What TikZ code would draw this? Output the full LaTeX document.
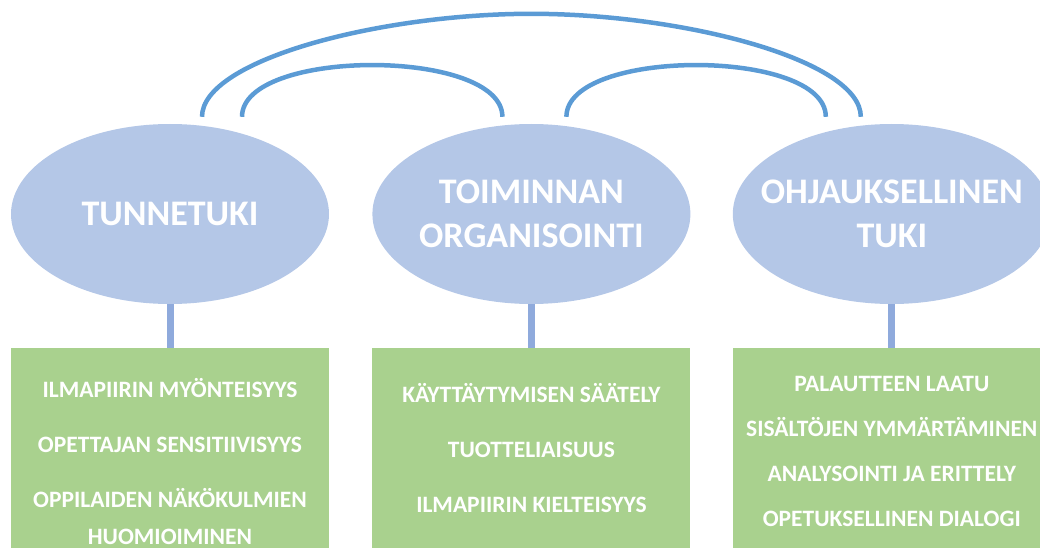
\documentclass[tikz,border=0pt]{standalone}
\usepackage{fontspec}
\setmainfont{Carlito}
\usepackage{xcolor}
\usepackage{tikz}
\usetikzlibrary{shapes.geometric}
\usetikzlibrary{positioning, calc}

\definecolor{ovalBlue}{HTML}{B4C7E7}
\definecolor{boxGreen}{HTML}{A9D18E}
\definecolor{stemBlue}{HTML}{8FAADC}
\definecolor{arcBlue}{HTML}{5B9BD5}

\begin{document}
\begin{tikzpicture}[
        area/.style={ellipse, minimum width=318pt, minimum height=180pt, inner sep=0pt, fill=ovalBlue},
        areatext/.style={inner sep=0pt, text=white, align=center, font=\fontsize{36}{44}\selectfont\bfseries},
        itembox/.style={rectangle, minimum width=318pt, minimum height=210pt, inner sep=0pt, fill=boxGreen},
        itemlist/.style={inner sep=0pt, text=white, align=center, font=\fontsize{23.5}{37}\selectfont\bfseries},
        stem/.style={line width=7pt, draw=stemBlue},
        link/.style={line width=4.5pt, draw=arcBlue}
    ]

        \path [use as bounding box] (0,0) rectangle (1040pt,-548pt);
        \clip (0,0) rectangle (1040pt,-548pt);

        % ===== ellipses =====
        \node (tunne) [area] at (170pt,-214pt) {};
        \node (toiminta) [area, right=43pt of tunne] {};
        \node (ohjaus) [area, right=42pt of toiminta] {};

        \node (tunneText) [areatext] at (tunne) {TUNNETUKI};
        \node (toimintaText) [areatext] at (toiminta) {TOIMINNAN\\ORGANISOINTI};
        \node (ohjausText) [areatext] at (ohjaus) {OHJAUKSELLINEN\\TUKI};

        % ===== boxes =====
        \node (tunneBox) [itembox, below=44pt of tunne] {};
        \node (toimintaBox) [itembox, below=44pt of toiminta] {};
        \node (ohjausBox) [itembox, below=44pt of ohjaus] {};

        \node (tunneList) [itemlist] at ($(tunneBox.north)+(0,-113pt)$)
            {ILMAPIIRIN MYÖNTEISYYS\\[18pt]OPETTAJAN SENSITIIVISYYS\\[18pt]OPPILAIDEN NÄKÖKULMIEN\\HUOMIOIMINEN};
        \node (toimintaList) [itemlist] at ($(toimintaBox.north)+(0,-99.5pt)$)
            {KÄYTTÄYTYMISEN SÄÄTELY\\[18pt]TUOTTELIAISUUS\\[18pt]ILMAPIIRIN KIELTEISYYS};
        \node (ohjausList) [itemlist] at ($(ohjausBox.north)+(0,-103pt)$)
            {PALAUTTEEN LAATU\\[8pt]SISÄLTÖJEN YMMÄRTÄMINEN\\[8pt]ANALYSOINTI JA ERITTELY\\[8pt]OPETUKSELLINEN DIALOGI};

        % ===== stems =====
        \draw [stem] (tunne.south) -- (tunneBox.north);
        \draw [stem] (toiminta.south) -- (toimintaBox.north);
        \draw [stem] (ohjaus.south) -- (ohjausBox.north);

        % ===== arc end points =====
        \coordinate (outerL) at ($(tunne.north)+(32pt,7pt)$);
        \coordinate (innerL) at ($(tunne.north)+(72pt,7pt)$);
        \coordinate (midL) at ($(toiminta.north)+(-29pt,7pt)$);
        \coordinate (midR) at ($(toiminta.north)+(35pt,7pt)$);
        \coordinate (outerTop) at ($(toiminta.north)+(0,110pt)$);
        \coordinate (innerR) at ($(ohjaus.north)+(-66pt,7pt)$);
        \coordinate (outerR) at ($(ohjaus.north)+(-31pt,7pt)$);

        % ===== arcs =====
        \draw [link] (outerL) .. controls +(0,57pt) and +(-151pt,0) .. (outerTop)
            .. controls +(151pt,0) and +(0,57pt) .. (outerR);
        \draw [link] (innerL) .. controls +(0,69pt) and +(0,69pt) .. (midL);
        \draw [link] (midR) .. controls +(0,69pt) and +(0,69pt) .. (innerR);

    \end{tikzpicture}
\end{document}
